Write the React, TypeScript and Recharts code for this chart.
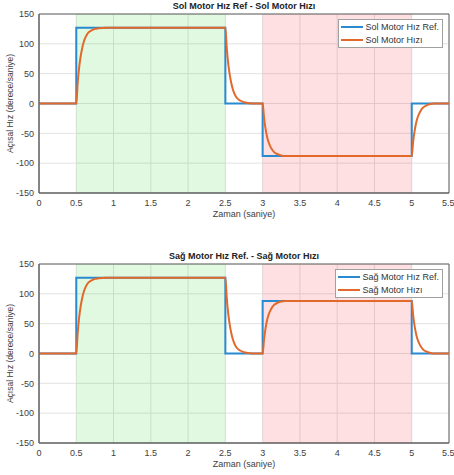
import React from 'react';
import {
  LineChart,
  Line,
  XAxis,
  YAxis,
  CartesianGrid,
  ReferenceArea,
} from 'recharts';

// reference speed profile (step changes)
const refTimes = [0, 0.5, 0.5, 2.5, 2.5, 3, 3, 5, 5, 5.5];
const solRef = [0, 0, 127, 127, 0, 0, -88, -88, 0, 0];
const sagRef = [0, 0, 127, 127, 0, 0, 88, 88, 0, 0];

// measured motor speed
const respTimes = [
  0, 0.5, 0.52, 0.54, 0.56, 0.58, 0.6, 0.62, 0.65, 0.7, 0.75, 0.8, 0.9,
  2.5, 2.52, 2.54, 2.56, 2.58, 2.6, 2.62, 2.65, 2.7, 2.75, 2.8, 2.9,
  3, 3.02, 3.04, 3.06, 3.08, 3.1, 3.12, 3.15, 3.2, 3.25, 3.3,
  5, 5.02, 5.04, 5.06, 5.08, 5.1, 5.12, 5.15, 5.2, 5.25, 5.3, 5.5,
];
const solResp = [
  0, 0, 36, 62, 80, 93, 103, 110, 117, 122, 125, 126, 127,
  127, 91, 65, 47, 34, 24, 17, 10, 5, 2, 1, 0,
  0, -25, -43, -56, -65, -71, -76, -81, -85, -87, -88,
  -88, -63, -45, -32, -23, -17, -12, -7, -3, -1, 0, 0,
];
const sagResp = [
  0, 0, 36, 62, 80, 93, 103, 110, 117, 122, 125, 126, 127,
  127, 91, 65, 47, 34, 24, 17, 10, 5, 2, 1, 0,
  0, 25, 43, 56, 65, 71, 76, 81, 85, 87, 88,
  88, 63, 45, 32, 23, 17, 12, 7, 3, 1, 0, 0,
];

const xTicks = [0, 0.5, 1, 1.5, 2, 2.5, 3, 3.5, 4, 4.5, 5, 5.5];
const yTicks = [-150, -100, -50, 0, 50, 100, 150];

const BLUE = '#2a8ad0';
const ORANGE = '#e2692c';
const FONT = '"Liberation Sans", Arial, sans-serif';
const W = 454;

const toPoints = (ts: number[], vs: number[]) => ts.map((t, i) => ({ t, v: vs[i] }));

interface PanelProps {
  title: string;
  refName: string;
  respName: string;
  refData: number[];
  respData: number[];
  top: number;
  height: number;
  plotTop: number;
}

function Panel({ title, refName, respName, refData, respData, top, height, plotTop }: PanelProps) {
  const tick = { fill: '#404040', fontSize: 9, fontFamily: FONT };
  return (
    <div style={{ position: 'absolute', left: 0, top, width: W, height }}>
      <div
        style={{
          position: 'absolute',
          left: 39,
          width: 410,
          top: plotTop - 13,
          textAlign: 'center',
          fontFamily: FONT,
          fontWeight: 'bold',
          fontSize: 9,
          color: '#222',
          lineHeight: '11px',
        }}
      >
        {title}
      </div>
      <LineChart width={W} height={height} margin={{ top: plotTop, right: 5, bottom: 0, left: 0 }}>
        <CartesianGrid stroke="#e2e2e2" strokeWidth={1} />
        <ReferenceArea x1={0.5} x2={2.5} y1={-150} y2={150} fill="#00d000" fillOpacity={0.12} />
        <ReferenceArea x1={3} x2={5} y1={-150} y2={150} fill="#ff0010" fillOpacity={0.12} />
        <ReferenceArea x1={0} x2={5.5} y1={-150} y2={150} fill="none" stroke="#606060" strokeWidth={1} />
        <XAxis
          dataKey="t"
          type="number"
          domain={[0, 5.5]}
          ticks={xTicks}
          allowDataOverflow
          height={37}
          tickLine={false}
          tickSize={5}
          tickMargin={2}
          axisLine={{ stroke: '#606060' }}
          tick={tick}
          label={{
            value: 'Zaman (saniye)',
            position: 'insideBottom',
            offset: 13,
            fill: '#404040',
            fontSize: 9,
            fontFamily: FONT,
          }}
        />
        <YAxis
          type="number"
          domain={[-150, 150]}
          ticks={yTicks}
          width={39}
          tickLine={false}
          tickSize={3}
          tickMargin={2}
          axisLine={{ stroke: '#606060' }}
          tick={tick}
          label={{
            value: 'Açısal Hız (derece/saniye)',
            angle: -90,
            position: 'insideLeft',
            textAnchor: 'middle',
            offset: 10,
            fill: '#404040',
            fontSize: 8.5,
            fontFamily: FONT,
          }}
        />
        <Line
          data={toPoints(refTimes, refData)}
          dataKey="v"
          type="linear"
          stroke={BLUE}
          strokeWidth={2}
          dot={false}
          isAnimationActive={false}
        />
        <Line
          data={toPoints(respTimes, respData)}
          dataKey="v"
          type="monotoneX"
          stroke={ORANGE}
          strokeWidth={2}
          dot={false}
          isAnimationActive={false}
        />
      </LineChart>
      <div
        style={{
          position: 'absolute',
          right: 11,
          top: plotTop + 5,
          background: '#fff',
          border: '1px solid #a0a0a0',
          padding: '1px 3px 1px 2px',
          fontFamily: FONT,
          fontSize: 9,
          color: '#333',
        }}
      >
        {[
          { name: refName, color: BLUE },
          { name: respName, color: ORANGE },
        ].map((item) => (
          <div key={item.name} style={{ display: 'flex', alignItems: 'center', height: 12.6 }}>
            <span style={{ display: 'inline-block', width: 22, height: 2, background: item.color, marginRight: 2 }} />
            <span>{item.name}</span>
          </div>
        ))}
      </div>
    </div>
  );
}

export default function App() {
  return (
    <div style={{ position: 'absolute', left: 0, top: 0, width: W, height: 475, background: '#fff', overflow: 'hidden' }}>
      <Panel
        title="Sol Motor Hız Ref - Sol Motor Hızı"
        refName="Sol Motor Hız Ref."
        respName="Sol Motor Hızı"
        refData={solRef}
        respData={solResp}
        top={0}
        height={230}
        plotTop={14}
      />
      <Panel
        title="Sağ Motor Hız Ref. - Sağ Motor Hızı"
        refName="Sağ Motor Hız Ref."
        respName="Sağ Motor Hızı"
        refData={sagRef}
        respData={sagResp}
        top={240}
        height={240}
        plotTop={24}
      />
    </div>
  );
}
